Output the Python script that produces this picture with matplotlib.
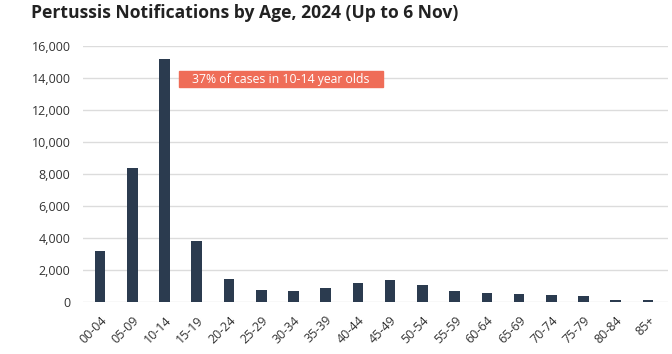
import matplotlib
matplotlib.use("Agg")
import matplotlib.pyplot as plt
from matplotlib.patches import Rectangle
from matplotlib.ticker import FuncFormatter

age_groups = ["00-04", "05-09", "10-14", "15-19", "20-24", "25-29", "30-34", "35-39",
              "40-44", "45-49", "50-54", "55-59", "60-64", "65-69", "70-74", "75-79",
              "80-84", "85+"]
notifications = [3200, 8390, 15190, 3810, 1440, 780, 720, 910, 1220, 1380, 1110,
                 720, 600, 560, 450, 410, 160, 160]
y_ticks = [0, 2000, 4000, 6000, 8000, 10000, 12000, 14000, 16000]
title = "Pertussis Notifications by Age, 2024 (Up to 6 Nov)"
note = "37% of cases in 10-14 year olds"

plt.rcParams['font.family'] = ['Open Sans', 'DejaVu Sans']

fig = plt.figure(figsize=(6.72, 3.54), dpi=100)
ax = fig.add_axes([0.1235, 0.1455, 0.8705, 0.7245])

x = list(range(len(age_groups)))
ax.bar(x, notifications, width=0.33, color="#2B3B4F", zorder=3)

ax.set_xlim(-0.53, len(age_groups) - 1 + 0.62)
ax.set_ylim(0, 16000)
ax.set_yticks(y_ticks)
ax.yaxis.set_major_formatter(FuncFormatter(lambda v, p: f"{int(v):,}"))
ax.grid(axis="y", color="#DCDCDC", linewidth=1.0, zorder=0)
for s in ax.spines.values():
    s.set_visible(False)
ax.tick_params(axis="y", length=0, pad=9, labelsize=9, labelcolor="#333333")
ax.tick_params(axis="x", length=0, pad=8, labelsize=9, labelcolor="#333333")
ax.set_xticks(x)
ax.set_xticklabels(age_groups, rotation=45, ha="right", rotation_mode="anchor")

# annotation box
ax.add_patch(Rectangle((2.45, 13440), 6.33, 1000, color="#EF6D58", zorder=4))
ax.text(2.45 + 6.33 / 2, 13940, note, color="white", fontsize=8.8,
        ha="center", va="center", zorder=5)

fig.text(0.046, 0.963, title, fontsize=12.6, fontweight="bold", color="#222222",
         ha="left", va="center")

fig.savefig("out.png", dpi=100)
